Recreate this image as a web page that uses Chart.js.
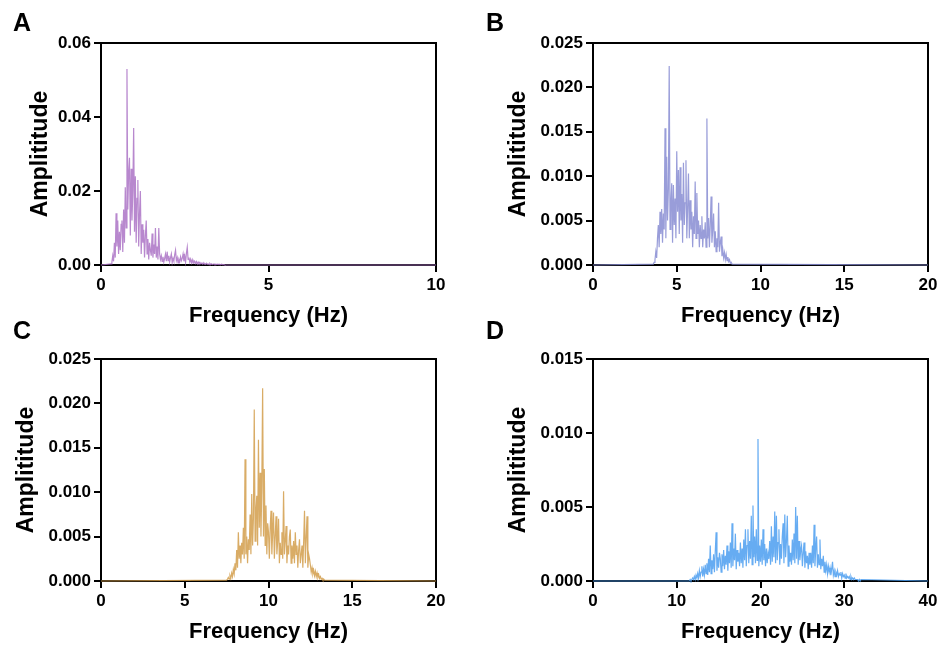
<!DOCTYPE html>
<html><head><meta charset="utf-8">
<script src="https://cdn.jsdelivr.net/npm/chart.js@4"></script>
<style>
body{margin:0;background:#fff;width:940px;height:652px;position:relative;overflow:hidden;font-family:"Liberation Sans",Arial,sans-serif}
.panel{position:absolute;width:460px;height:340px}
.lab{position:absolute;font-weight:bold;font-size:25px;line-height:25px;color:#000}
</style></head><body>
<div class="panel" style="left:0;top:0"><canvas id="cA" width="460" height="340"></canvas></div>
<div class="panel" style="left:492px;top:0"><canvas id="cB" width="460" height="340"></canvas></div>
<div class="panel" style="left:0;top:316px"><canvas id="cC" width="460" height="340"></canvas></div>
<div class="panel" style="left:492px;top:316px"><canvas id="cD" width="460" height="340"></canvas></div>
<div class="lab" style="left:13px;top:10px">A</div>
<div class="lab" style="left:486px;top:10px">B</div>
<div class="lab" style="left:13px;top:318px">C</div>
<div class="lab" style="left:486px;top:318px">D</div>
<script>
// ---- Panel A (Hz grid: start 0.3, step 0.025) ----
const startA = 0.3, stepA = 0.025;
const ampA = [0.0003,0.0008,0.0025,0.0010,0.0060,0.0020,0.0140,0.0050,0.0120,0.0030,
 0.0090,0.0040,0.0110,0.0120,0.0035,0.0150,0.0060,0.0210,0.0100,0.0530,
 0.0150,0.0250,0.0290,0.0080,0.0260,0.0120,0.0200,0.0370,0.0090,0.0240,
 0.0060,0.0180,0.0230,0.0050,0.0140,0.0200,0.0030,0.0110,0.0060,0.0095,
 0.0020,0.0080,0.0120,0.0030,0.0070,0.0015,0.0060,0.0040,0.0025,0.0085,
 0.0020,0.0055,0.0030,0.0100,0.0020,0.0050,0.0015,0.0100,0.0030,0.0015,
 0.0025,0.0010,0.0022,0.0008,0.0018,0.0030,0.0010,0.0036,0.0012,0.0025,
 0.0008,0.0020,0.0030,0.0007,0.0018,0.0010,0.0028,0.0040,0.0012,0.0020,
 0.0006,0.0015,0.0009,0.0022,0.0012,0.0018,0.0030,0.0010,0.0024,0.0008,
 0.0032,0.0048,0.0015,0.0020,0.0008,0.0016,0.0006,0.0014,0.0005,0.0012,
 0.0010,0.0004,0.0009,0.0003,0.0008,0.0004,0.0007,0.0003,0.0005,0.0002,
 0.0006,0.0002,0.0004,0.0002,0.0005,0.0002,0.0003,0.0001,0.0004,0.0001,
 0.0003,0.0001,0.0002,0.0003,0.0001,0.0002,0.0001,0.0002,0.0001,0.0002,
 0.0001,0.0001,0.0002,0.0001,0.0001,0.0001,0.0000];
const xTicksA = [0, 5, 10];
const xLabelsA = ['0', '5', '10'];
const yTicksA = [0, 0.02, 0.04, 0.06];
const yLabelsA = ['0.00', '0.02', '0.04', '0.06'];

// ---- Panel B (start 3.6, step 0.05) ----
const startB = 3.6, stepB = 0.05;
const ampB = [0.0001,0.0003,0.0006,0.0015,0.0008,0.0030,0.0045,0.0020,0.0060,0.0035,
 0.0063,0.0025,0.0058,0.0040,0.0154,0.0030,0.0122,0.0050,0.0085,0.0224,
 0.0040,0.0070,0.0092,0.0025,0.0090,0.0045,0.0075,0.0030,0.0128,0.0060,
 0.0107,0.0035,0.0110,0.0050,0.0080,0.0025,0.0115,0.0045,0.0070,0.0118,
 0.0030,0.0065,0.0103,0.0030,0.0073,0.0040,0.0060,0.0020,0.0055,0.0035,
 0.0094,0.0030,0.0081,0.0035,0.0050,0.0020,0.0045,0.0030,0.0055,0.0020,
 0.0040,0.0030,0.0048,0.0020,0.0165,0.0030,0.0053,0.0020,0.0045,0.0077,
 0.0025,0.0040,0.0058,0.0020,0.0038,0.0015,0.0030,0.0020,0.0070,0.0015,
 0.0025,0.0032,0.0010,0.0017,0.0008,0.0014,0.0006,0.0012,0.0005,0.0009,
 0.0004,0.0006,0.0002,0.0003,0.0001,0.0001];
const xTicksB = [0, 5, 10, 15, 20];
const xLabelsB = ['0', '5', '10', '15', '20'];
const yTicksB = [0, 0.005, 0.01, 0.015, 0.02, 0.025];
const yLabelsB = ['0.000', '0.005', '0.010', '0.015', '0.020', '0.025'];

// ---- Panel C (start 7.5, step 0.05) ----
const startC = 7.5, stepC = 0.05;
const ampC = [0.0001,0.0002,0.0004,0.0002,0.0006,0.0003,0.0009,0.0005,0.0013,0.0008,
 0.0020,0.0012,0.0035,0.0015,0.0055,0.0025,0.0040,0.0020,0.0043,0.0030,
 0.0060,0.0025,0.0137,0.0030,0.0050,0.0020,0.0047,0.0035,0.0075,0.0030,
 0.0098,0.0040,0.0070,0.0193,0.0045,0.0080,0.0096,0.0040,0.0159,0.0060,
 0.0122,0.0050,0.0107,0.0217,0.0050,0.0126,0.0040,0.0085,0.0030,0.0065,
 0.0055,0.0025,0.0060,0.0079,0.0030,0.0055,0.0077,0.0025,0.0050,0.0073,
 0.0030,0.0045,0.0070,0.0020,0.0043,0.0030,0.0055,0.0025,0.0101,0.0030,
 0.0045,0.0062,0.0020,0.0040,0.0030,0.0050,0.0058,0.0020,0.0040,0.0025,
 0.0045,0.0020,0.0055,0.0030,0.0040,0.0015,0.0035,0.0047,0.0020,0.0030,
 0.0040,0.0015,0.0045,0.0079,0.0020,0.0050,0.0073,0.0015,0.0030,0.0025,
 0.0018,0.0010,0.0015,0.0008,0.0012,0.0006,0.0011,0.0005,0.0009,0.0004,
 0.0007,0.0003,0.0005,0.0002,0.0003,0.0001,0.0002,0.0001];
const xTicksC = [0, 5, 10, 15, 20];
const xLabelsC = ['0', '5', '10', '15', '20'];
const yTicksC = [0, 0.005, 0.01, 0.015, 0.02, 0.025];
const yLabelsC = ['0.000', '0.005', '0.010', '0.015', '0.020', '0.025'];

// ---- Panel D (start 11.5, step 0.1) ----
const startD = 11.5, stepD = 0.1;
const ampD = [0.0000,0.0001,0.0000,0.0001,0.0002,0.0001,0.0003,0.0001,0.0004,0.0002,
 0.0005,0.0002,0.0007,0.0003,0.0006,0.0010,0.0003,0.0008,0.0004,0.0011,
 0.0005,0.0012,0.0004,0.0015,0.0006,0.0024,0.0005,0.0014,0.0008,0.0018,
 0.0006,0.0020,0.0033,0.0007,0.0016,0.0009,0.0019,0.0015,0.0006,0.0018,
 0.0010,0.0021,0.0008,0.0017,0.0011,0.0024,0.0007,0.0020,0.0012,0.0026,
 0.0009,0.0039,0.0010,0.0022,0.0014,0.0032,0.0008,0.0021,0.0013,0.0019,
 0.0010,0.0026,0.0012,0.0022,0.0009,0.0028,0.0014,0.0035,0.0010,0.0024,
 0.0035,0.0012,0.0027,0.0015,0.0044,0.0011,0.0051,0.0016,0.0030,0.0012,
 0.0035,0.0014,0.0096,0.0010,0.0024,0.0013,0.0028,0.0011,0.0035,0.0014,
 0.0025,0.0010,0.0022,0.0012,0.0019,0.0015,0.0027,0.0011,0.0037,0.0013,
 0.0030,0.0016,0.0047,0.0012,0.0044,0.0014,0.0026,0.0035,0.0011,0.0025,
 0.0015,0.0030,0.0039,0.0012,0.0045,0.0016,0.0027,0.0044,0.0010,0.0024,
 0.0013,0.0019,0.0011,0.0028,0.0014,0.0032,0.0012,0.0050,0.0015,0.0044,
 0.0011,0.0027,0.0014,0.0021,0.0024,0.0010,0.0019,0.0026,0.0009,0.0020,
 0.0012,0.0017,0.0008,0.0019,0.0011,0.0019,0.0009,0.0024,0.0012,0.0038,
 0.0010,0.0022,0.0030,0.0009,0.0018,0.0011,0.0028,0.0008,0.0015,0.0010,
 0.0017,0.0006,0.0013,0.0007,0.0011,0.0005,0.0010,0.0006,0.0009,0.0004,
 0.0008,0.0013,0.0004,0.0007,0.0003,0.0006,0.0004,0.0007,0.0003,0.0005,
 0.0004,0.0006,0.0002,0.0005,0.0003,0.0004,0.0002,0.0005,0.0002,0.0003,
 0.0002,0.0003,0.0001,0.0003,0.0001,0.0002,0.0001,0.0002,0.0001,0.0001,
 0.0001,0.0001,0.0000,0.0001,0.0000,0.0001];
const xTicksD = [0, 10, 20, 30, 40];
const xLabelsD = ['0', '10', '20', '30', '40'];
const yTicksD = [0, 0.005, 0.01, 0.015];
const yLabelsD = ['0.000', '0.005', '0.010', '0.015'];

const xTitle = 'Frequency (Hz)';
const yTitle = 'Amplititude';

Chart.defaults.font.family = '"Liberation Sans", Arial, sans-serif';
Chart.defaults.color = '#000';

const framePlugin = {
  id: 'frame',
  beforeDatasetsDraw(chart) {
    const {ctx, chartArea: a} = chart;
    ctx.save();
    ctx.strokeStyle = '#000';
    ctx.lineWidth = 2;
    ctx.beginPath();
    ctx.moveTo(a.left - 1, a.top);
    ctx.lineTo(a.right, a.top);
    ctx.lineTo(a.right, a.bottom + 1);
    ctx.stroke();
    ctx.restore();
  }
};

function makePanel(id, start, step, amps, xMax, xT, xL, yMax, yT, yL, color, yTitlePad) {
  const pts = [{x: 0, y: 0}];
  amps.forEach((a, i) => pts.push({x: +(start + i * step).toFixed(4), y: a}));
  pts.push({x: xMax, y: 0});
  new Chart(document.getElementById(id), {
    type: 'line',
    data: {datasets: [{data: pts, borderColor: color, borderWidth: 1.2, pointRadius: 0, tension: 0, fill: false, clip: 3}]},
    options: {
      responsive: false, animation: false, parsing: true,
      layout: {padding: {left: 0, top: 43, right: 24, bottom: 0}},
      plugins: {legend: {display: false}, tooltip: {enabled: false}},
      scales: {
        x: {
          type: 'linear', min: 0, max: xMax,
          afterBuildTicks: s => { s.ticks = xT.map(v => ({value: v})); },
          afterFit: s => { s.height = 75; },
          ticks: {callback: (v, i) => xL[i], font: {size: 17, weight: 'bold'}, color: '#000', padding: 3, maxRotation: 0, autoSkip: false},
          grid: {display: true, drawOnChartArea: false, drawTicks: true, tickLength: 7, color: '#000', lineWidth: 2},
          border: {display: true, color: '#000', width: 2},
          title: {display: true, text: xTitle, font: {size: 22, weight: 'bold'}, color: '#000', padding: {top: 0, bottom: 11}}
        },
        y: {
          type: 'linear', min: 0, max: yMax,
          afterBuildTicks: s => { s.ticks = yT.map(v => ({value: v})); },
          afterFit: s => { s.width = 101; },
          ticks: {callback: (v, i) => yL[i], font: {size: 17, weight: 'bold'}, color: '#000', padding: 3, autoSkip: false},
          grid: {display: true, drawOnChartArea: false, drawTicks: true, tickLength: 7, color: '#000', lineWidth: 2},
          border: {display: true, color: '#000', width: 2},
          title: {display: true, text: yTitle, font: {size: 23, weight: 'bold'}, color: '#000', padding: {top: yTitlePad, bottom: 0}}
        }
      }
    },
    plugins: [framePlugin]
  });
}

makePanel('cA', startA, stepA, ampA, 10, xTicksA, xLabelsA, 0.06, yTicksA, yLabelsA, 'rgba(172,115,198,0.85)', 27);
makePanel('cB', startB, stepB, ampB, 20, xTicksB, xLabelsB, 0.025, yTicksB, yLabelsB, 'rgba(135,140,210,0.85)', 13);
makePanel('cC', startC, stepC, ampC, 20, xTicksC, xLabelsC, 0.025, yTicksC, yLabelsC, 'rgba(210,158,75,0.85)', 13);
makePanel('cD', startD, stepD, ampD, 40, xTicksD, xLabelsD, 0.015, yTicksD, yLabelsD, 'rgba(75,158,240,0.85)', 13);
</script>
</body></html>
